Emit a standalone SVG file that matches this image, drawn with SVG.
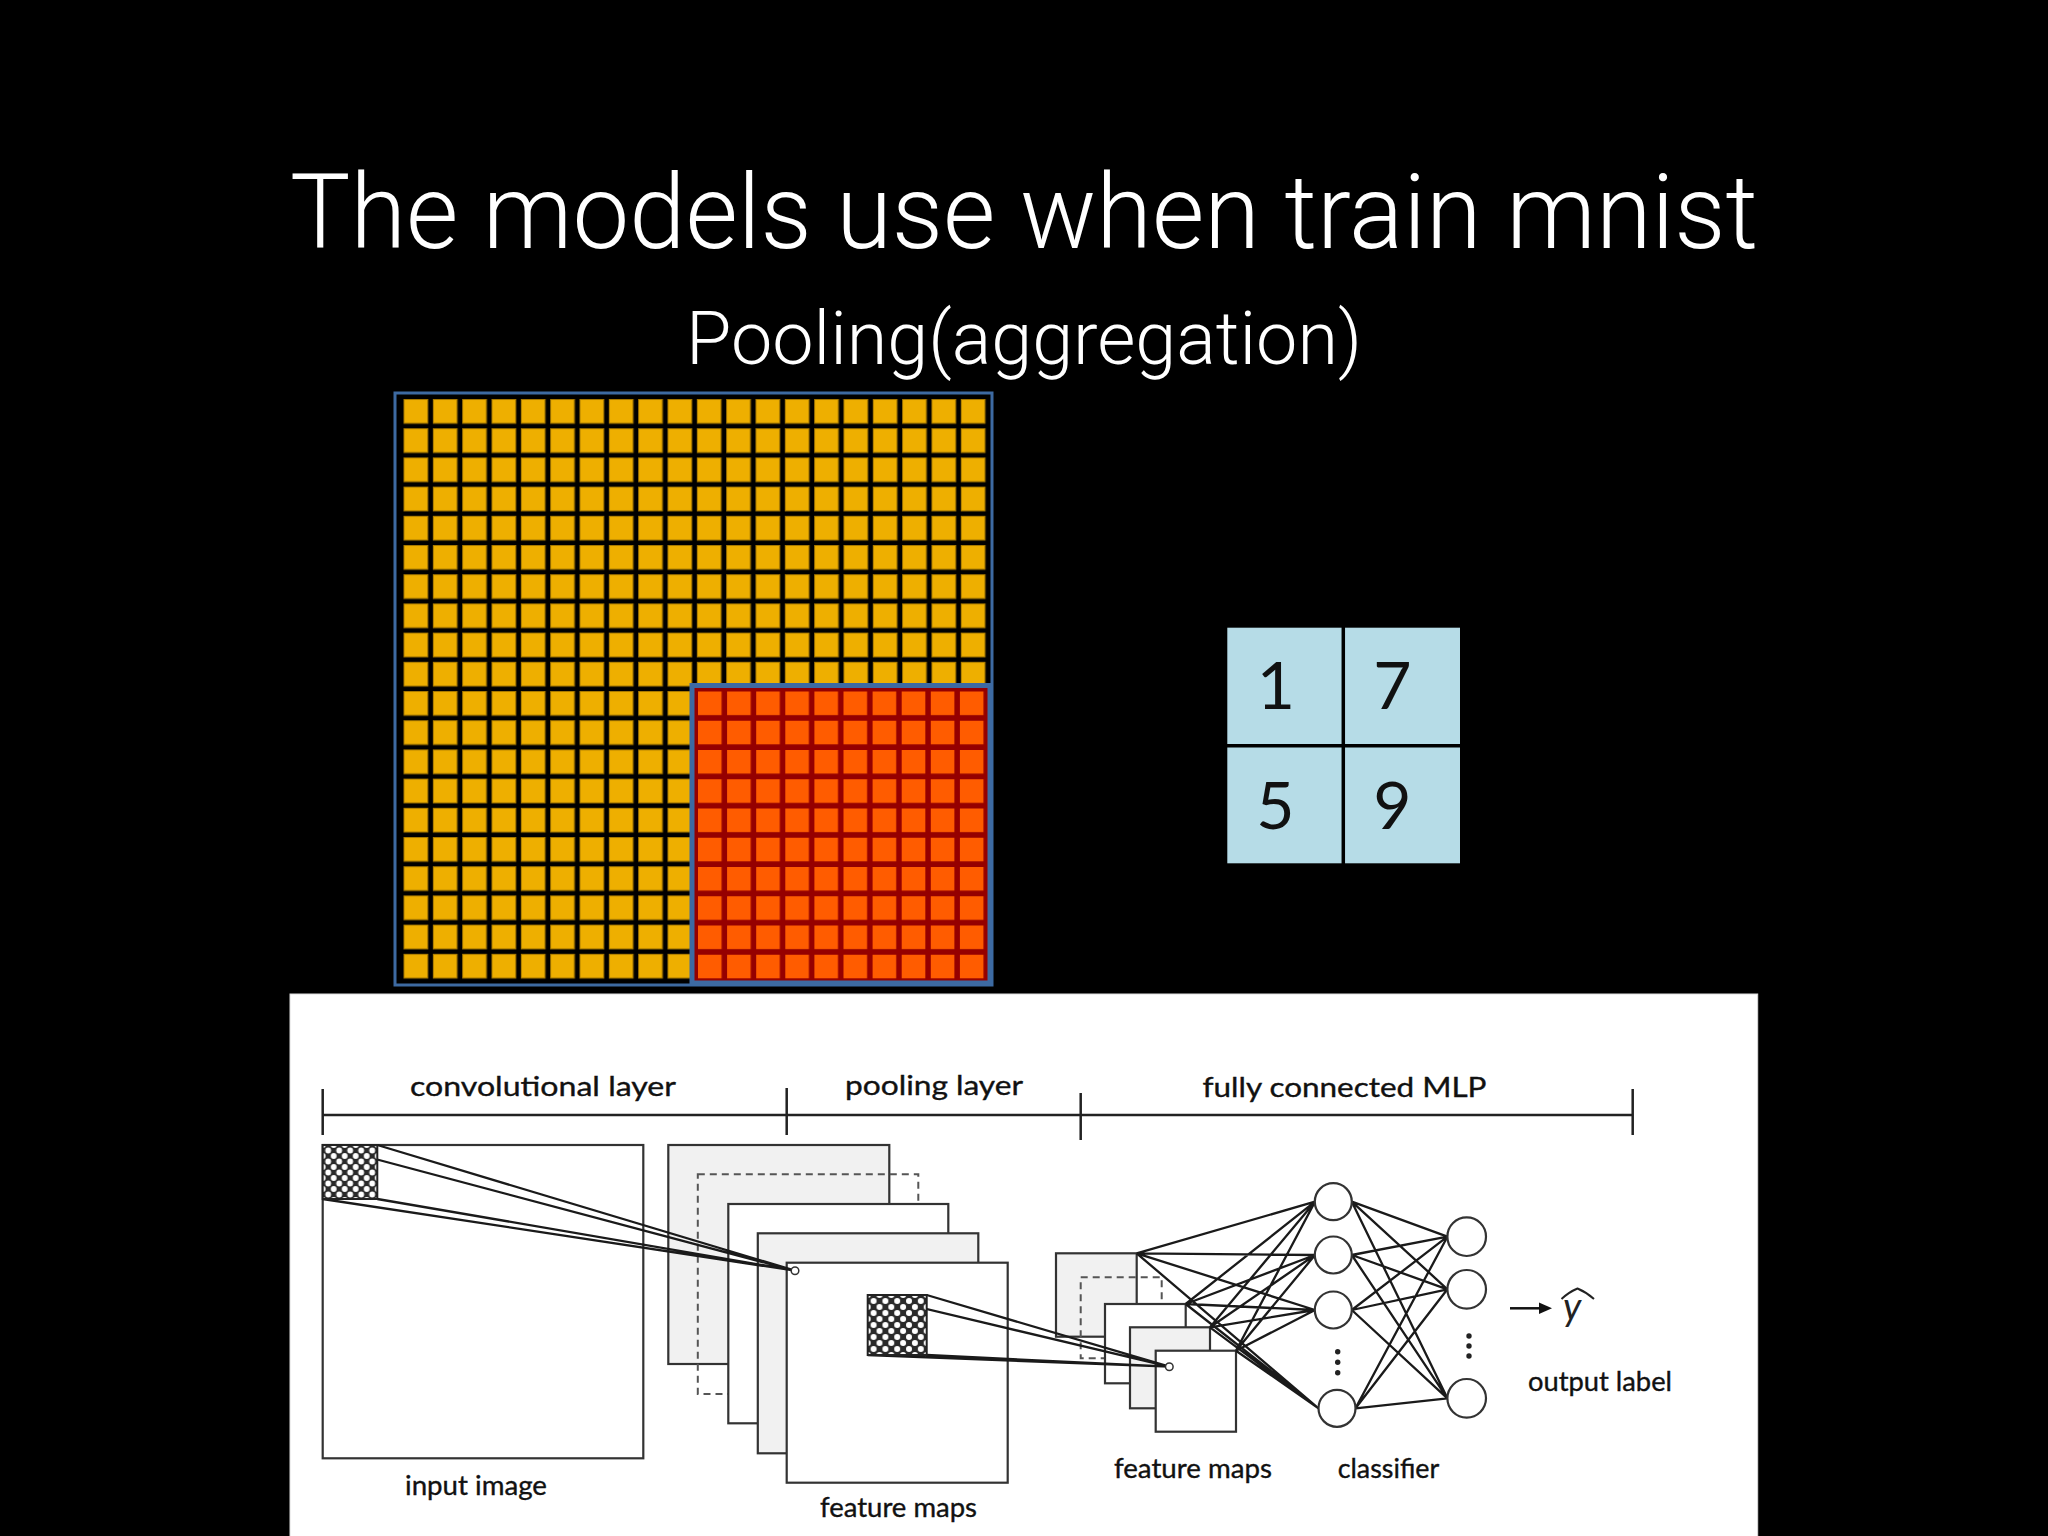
<svg xmlns="http://www.w3.org/2000/svg" width="2048" height="1536" viewBox="0 0 2048 1536">
<style>
.title{font-family:Roboto,"Liberation Sans",sans-serif;font-weight:300;fill:#fff}
.lbl{font-family:Lato,"Liberation Sans",sans-serif;font-size:26px;fill:#111;stroke:#111;stroke-width:0.35}
.digit{font-family:Lato,"Liberation Sans",sans-serif;font-size:66px;fill:#111;text-anchor:middle}
.map{stroke:#333;stroke-width:2.2}
.gray{fill:#f1f1f1}
.white{fill:#fff}
.dash{fill:none;stroke:#555;stroke-width:2;stroke-dasharray:7,5}
.neuron{fill:#fff;stroke:#333;stroke-width:2.2}
.wire{fill:none;stroke:#1a1a1a;stroke-width:2.3}
.dot{fill:#222}
</style>
<defs>
<pattern id="ygrid" patternUnits="userSpaceOnUse" x="403.5" y="399" width="29.33" height="29.2">
<rect x="0.5" y="0.5" width="23.8" height="23.8" fill="#EEAF00" stroke="#A67800" stroke-width="1"/>
</pattern>
<pattern id="rgrid" patternUnits="userSpaceOnUse" x="698" y="691.5" width="29.1" height="29.25">
<rect x="0" y="0" width="23.6" height="23.6" fill="#FF5C00"/>
</pattern>
<pattern id="hatch" patternUnits="userSpaceOnUse" x="322.7" y="1145" width="11" height="11">
<rect width="11" height="11" fill="#2a2a2a"/>
<circle cx="0" cy="0" r="2.9" fill="#fff"/>
<circle cx="11" cy="0" r="2.9" fill="#fff"/>
<circle cx="0" cy="11" r="2.9" fill="#fff"/>
<circle cx="11" cy="11" r="2.9" fill="#fff"/>
<circle cx="5.5" cy="5.5" r="2.9" fill="#fff"/>
</pattern>
<pattern id="hatch2" patternUnits="userSpaceOnUse" x="867.7" y="1295" width="11.8" height="12">
<rect width="11.8" height="12" fill="#2a2a2a"/>
<circle cx="0" cy="0" r="3" fill="#fff"/>
<circle cx="11.8" cy="0" r="3" fill="#fff"/>
<circle cx="0" cy="12" r="3" fill="#fff"/>
<circle cx="11.8" cy="12" r="3" fill="#fff"/>
<circle cx="5.9" cy="6" r="3" fill="#fff"/>
</pattern>
</defs>

<rect width="2048" height="1536" fill="#000"/>

<g id="heading">
<text class="title" x="1024" y="248" font-size="104" text-anchor="middle" textLength="1468" lengthAdjust="spacingAndGlyphs">The models use when train mnist</text>
<text class="title" x="1024" y="364" font-size="75" text-anchor="middle" textLength="676" lengthAdjust="spacingAndGlyphs">Pooling(aggregation)</text>
</g>

<g id="input-grid">
<rect x="395" y="393" width="597" height="592" fill="#000" stroke="#3D6AA2" stroke-width="3"/>
<rect x="401" y="397" width="588" height="585" fill="url(#ygrid)"/>
</g>

<g id="pool-window">
<rect x="692" y="685.5" width="298" height="297.5" fill="#950000" stroke="#3D6AA2" stroke-width="5"/>
<rect x="695" y="688.5" width="292" height="292" fill="url(#rgrid)"/>
</g>

<g id="pooled-output">
<rect x="1227.3" y="627.7" width="232.7" height="235.6" fill="#B6DCE7"/>
<line x1="1343.3" y1="627" x2="1343.3" y2="864" stroke="#000" stroke-width="3.5"/>
<line x1="1227" y1="745.7" x2="1460" y2="745.7" stroke="#000" stroke-width="3.5"/>
<text class="digit" x="1276" y="709.3">1</text>
<text class="digit" x="1392.5" y="709.3">7</text>
<text class="digit" x="1275.5" y="829.3">5</text>
<text class="digit" x="1392.5" y="829.3">9</text>
</g>

<g id="cnn-panel">
<rect x="290" y="994" width="1467.7" height="560" fill="#fff" stroke="#ddd" stroke-width="1"/>

<g id="scale-bar">
<path d="M322.7,1115 L1632.7,1115 M322.7,1089 V1135 M786.7,1088 V1135 M1080.7,1093 V1140 M1632.7,1089 V1135" fill="none" stroke="#222" stroke-width="2.5"/>
<text class="lbl" x="410" y="1096" textLength="266" lengthAdjust="spacingAndGlyphs">convolutional layer</text>
<text class="lbl" x="845" y="1095" textLength="178" lengthAdjust="spacingAndGlyphs">pooling layer</text>
<text class="lbl" x="1202.5" y="1097" textLength="284" lengthAdjust="spacingAndGlyphs">fully connected MLP</text>
</g>

<g id="input-image">
<rect class="map white" x="322.7" y="1145" width="320.6" height="313.3"/>
<text class="lbl" x="405" y="1495" textLength="142" lengthAdjust="spacingAndGlyphs">input image</text>
</g>

<g id="conv-feature-maps">
<rect class="map gray" x="668.3" y="1145" width="221" height="219"/>
<rect class="dash" x="697.8" y="1174.3" width="220.5" height="219.7"/>
<rect class="map white" x="728.3" y="1204" width="220" height="219.3"/>
<rect class="map gray" x="757.8" y="1233.3" width="220.5" height="220"/>
<rect class="map white" x="786.7" y="1262.7" width="221" height="220"/>
<text class="lbl" x="820" y="1517" textLength="157" lengthAdjust="spacingAndGlyphs">feature maps</text>
</g>

<g id="pool-feature-maps">
<rect class="map gray" x="1056" y="1253.3" width="80.7" height="83.4"/>
<rect class="dash" x="1080.7" y="1277.3" width="81" height="81"/>
<rect class="map white" x="1105" y="1304" width="80.7" height="79.3"/>
<rect class="map gray" x="1130" y="1327.3" width="80" height="81"/>
<rect class="map white" x="1155.7" y="1350.7" width="80.3" height="81"/>
<text class="lbl" x="1114" y="1478" textLength="158" lengthAdjust="spacingAndGlyphs">feature maps</text>
</g>

<g id="connectors">
<path class="wire" d="M322.7,1145 L795,1270.7 M377.3,1145 L795,1270.7 M322.7,1199 L795,1270.7 M377.3,1199 L795,1270.7"/>
<path class="wire" d="M867.7,1295 L1169.3,1366.7 M926.7,1295 L1169.3,1366.7 M867.7,1355 L1169.3,1366.7 M926.7,1355 L1169.3,1366.7"/>
<path class="wire" d="M1136.7,1253.3 L1315,1201.7 M1136.7,1253.3 L1315,1255 M1136.7,1253.3 L1315,1310 M1136.7,1253.3 L1318.5,1408.3
M1185.7,1304 L1315,1201.7 M1185.7,1304 L1315,1255 M1185.7,1304 L1315,1310 M1185.7,1304 L1318.5,1408.3
M1210,1327.3 L1315,1201.7 M1210,1327.3 L1315,1255 M1210,1327.3 L1315,1310 M1210,1327.3 L1318.5,1408.3
M1236,1350.7 L1315,1201.7 M1236,1350.7 L1315,1255 M1236,1350.7 L1315,1310 M1236,1350.7 L1318.5,1408.3"/>
<path class="wire" d="M1351.8,1201.7 L1447.4,1236.7 M1351.8,1201.7 L1447.4,1289.3 M1351.8,1201.7 L1447.4,1398.3
M1351.8,1255 L1447.4,1236.7 M1351.8,1255 L1447.4,1289.3 M1351.8,1255 L1447.4,1398.3
M1351.8,1310 L1447.4,1236.7 M1351.8,1310 L1447.4,1289.3 M1351.8,1310 L1447.4,1398.3
M1355.5,1408.3 L1447.4,1236.7 M1355.5,1408.3 L1447.4,1289.3 M1355.5,1408.3 L1447.4,1398.3"/>
<path d="M1510,1308.3 L1542,1308.3" stroke="#111" stroke-width="2.5"/>
<polygon points="1539,1302.5 1552,1308.3 1539,1314" fill="#111"/>
</g>

<g id="receptive-fields">
<rect x="322.7" y="1145" width="54.6" height="54" fill="url(#hatch)" stroke="#222" stroke-width="2"/>
<rect x="867.7" y="1295" width="59" height="60" fill="url(#hatch2)" stroke="#222" stroke-width="2"/>
<circle cx="795" cy="1270.7" r="3.8" fill="#fff" stroke="#333" stroke-width="1.5"/>
<circle cx="1169.3" cy="1366.7" r="3.8" fill="#fff" stroke="#333" stroke-width="1.5"/>
</g>

<g id="classifier">
<circle class="neuron" cx="1333.3" cy="1201.7" r="18.5"/>
<circle class="neuron" cx="1333.3" cy="1255" r="18.5"/>
<circle class="neuron" cx="1333.3" cy="1310" r="18.5"/>
<circle class="neuron" cx="1337" cy="1408.3" r="18.5"/>
<circle class="dot" cx="1337.7" cy="1351.7" r="2.7"/>
<circle class="dot" cx="1337.7" cy="1362.3" r="2.7"/>
<circle class="dot" cx="1337.7" cy="1372.7" r="2.7"/>
<text class="lbl" x="1337.7" y="1478" textLength="101.6" lengthAdjust="spacingAndGlyphs">classifier</text>
</g>

<g id="output-layer">
<circle class="neuron" cx="1466.7" cy="1236.7" r="19.3"/>
<circle class="neuron" cx="1466.7" cy="1289.3" r="19.3"/>
<circle class="neuron" cx="1466.7" cy="1398.3" r="19.3"/>
<circle class="dot" cx="1469" cy="1336" r="2.7"/>
<circle class="dot" cx="1469" cy="1346" r="2.7"/>
<circle class="dot" cx="1469" cy="1356" r="2.7"/>
</g>

<g id="output-label">
<text x="1563" y="1320" font-family="Lato,'Liberation Sans',sans-serif" font-style="italic" font-size="38" fill="#222">y</text>
<path d="M1561.5,1299 Q1569,1292 1577.5,1288.5 Q1586,1292 1594,1299" fill="none" stroke="#222" stroke-width="2"/>
<text class="lbl" x="1528" y="1391" textLength="144" lengthAdjust="spacingAndGlyphs">output label</text>
</g>
</g>
</svg>
